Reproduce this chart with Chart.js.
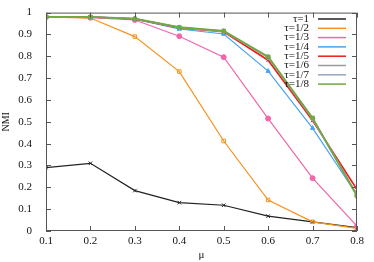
<!DOCTYPE html>
<html>
<head>
<meta charset="utf-8">
<script src="https://cdn.jsdelivr.net/npm/chart.js@4/dist/chart.umd.min.js"></script>
<style>
  html, body { margin: 0; padding: 0; background: #fff; }
  #wrap { width: 374px; height: 262px; }
</style>
</head>
<body>
<div id="wrap"><canvas id="nmi-chart"></canvas></div>
<script>
const mu = [0.1, 0.2, 0.3, 0.4, 0.5, 0.6, 0.7, 0.8];
const labels = ['τ=1', 'τ=1/2', 'τ=1/3', 'τ=1/4', 'τ=1/5', 'τ=1/6', 'τ=1/7', 'τ=1/8'];

const tau1 = [0.29, 0.31, 0.185, 0.13, 0.118, 0.068, 0.042, 0.015];
const tau2 = [0.98, 0.975, 0.89, 0.73, 0.412, 0.142, 0.042, 0.012];
const tau3 = [0.98, 0.977, 0.966, 0.892, 0.796, 0.515, 0.242, 0.022];
const tau4 = [0.98, 0.98, 0.97, 0.925, 0.902, 0.732, 0.471, 0.165];
const tau5 = [0.98, 0.98, 0.971, 0.93, 0.912, 0.782, 0.506, 0.19];
const tau6 = [0.98, 0.98, 0.972, 0.932, 0.915, 0.795, 0.515, 0.165];
const tau7 = [0.98, 0.98, 0.972, 0.932, 0.915, 0.795, 0.515, 0.162];
const tau8 = [0.98, 0.98, 0.972, 0.933, 0.916, 0.798, 0.518, 0.16];

const series = [tau1, tau2, tau3, tau4, tau5, tau6, tau7, tau8];
const colors = ['#222222', '#f7921e', '#f266aa', '#4aa3f0', '#f01c1c', '#9a9a9a', '#93a8c4', '#72a840'];
const markers = ['crossRot', 'rect', 'circle', 'triangle', 'crossRot', 'rectRot', 'cross', 'rect'];
const widths = [1.2, 1.2, 1.2, 1.2, 1.6, 1.6, 1.6, 1.8];

const serif = '"Liberation Serif", "DejaVu Serif", serif';

// inward ticks on all four sides, like gnuplot
const frameTicks = {
    id: 'frameTicks',
    afterDatasetsDraw(chart) {
        const ctx = chart.ctx;
        const a = chart.chartArea;
        const xs = chart.scales.x, ys = chart.scales.y;
        ctx.save();
        ctx.strokeStyle = '#555';
        ctx.lineWidth = 1;
        ctx.beginPath();
        ctx.rect(a.left + 0.5, a.top + 0.5, a.right - a.left - 1, a.bottom - a.top - 1);
        xs.ticks.forEach(t => {
            const px = Math.round(xs.getPixelForValue(t.value)) + 0.5;
            ctx.moveTo(px, a.bottom); ctx.lineTo(px, a.bottom - 5);
            ctx.moveTo(px, a.top); ctx.lineTo(px, a.top + 5);
        });
        ys.ticks.forEach(t => {
            const py = Math.round(ys.getPixelForValue(t.value)) + 0.5;
            ctx.moveTo(a.left, py); ctx.lineTo(a.left + 5, py);
            ctx.moveTo(a.right, py); ctx.lineTo(a.right - 5, py);
        });
        ctx.stroke();
        ctx.restore();
    }
};

// key in the top right corner: text right aligned, then line sample
const keyBox = {
    id: 'keyBox',
    afterDraw(chart) {
        const ctx = chart.ctx;
        ctx.save();
        ctx.font = '11px ' + serif;
        ctx.textAlign = 'right';
        ctx.textBaseline = 'middle';
        chart.data.datasets.forEach((ds, i) => {
            const y = 19 + i * 9.3;
            ctx.fillStyle = '#111';
            ctx.fillText(ds.label, 309, y);
            ctx.strokeStyle = ds.borderColor;
            ctx.lineWidth = 1.5;
            ctx.beginPath();
            ctx.moveTo(318, y); ctx.lineTo(346, y);
            ctx.stroke();
        });
        ctx.restore();
    }
};

new Chart(document.getElementById('nmi-chart'), {
    type: 'line',
    data: {
        datasets: series.map((s, i) => ({
            label: labels[i],
            data: s.map((v, j) => ({ x: mu[j], y: v })),
            borderColor: colors[i],
            backgroundColor: i === 1 ? 'rgba(0,0,0,0)' : colors[i],
            borderWidth: widths[i],
            pointStyle: markers[i],
            pointRadius: 2.5,
            pointBorderWidth: 1,
            tension: 0,
            order: series.length - i
        }))
    },
    options: {
        responsive: true,
        maintainAspectRatio: false,
        animation: false,
        layout: { padding: { top: 11, right: 17, left: 0, bottom: 0 } },
        plugins: {
            legend: { display: false },
            tooltip: { enabled: false }
        },
        scales: {
            x: {
                type: 'linear',
                min: 0.1,
                max: 0.8,
                grid: { display: false, drawTicks: false },
                border: { display: false },
                ticks: {
                    stepSize: 0.1,
                    color: '#111',
                    font: { family: serif, size: 11 },
                    padding: 4,
                    maxRotation: 0,
                    callback: v => v.toFixed(1)
                },
                title: {
                    display: true,
                    text: 'μ',
                    color: '#111',
                    font: { family: serif, size: 11 },
                    padding: { top: 2, bottom: 0 }
                },
                afterFit: s => { s.height = 31; }
            },
            y: {
                min: 0,
                max: 1,
                grid: { display: false },
                border: { display: false },
                ticks: {
                    stepSize: 0.1,
                    color: '#111',
                    font: { family: serif, size: 11 },
                    padding: 6,
                    callback: v => (v === 0 ? '0' : Math.abs(v - 1) < 1e-9 ? '1' : v.toFixed(1))
                },
                title: {
                    display: true,
                    text: 'NMI',
                    color: '#111',
                    font: { family: serif, size: 10 },
                    padding: { top: 0, bottom: 2 }
                },
                afterFit: s => { s.width = 46; }
            }
        }
    },
    plugins: [frameTicks, keyBox]
});
</script>
</body>
</html>
